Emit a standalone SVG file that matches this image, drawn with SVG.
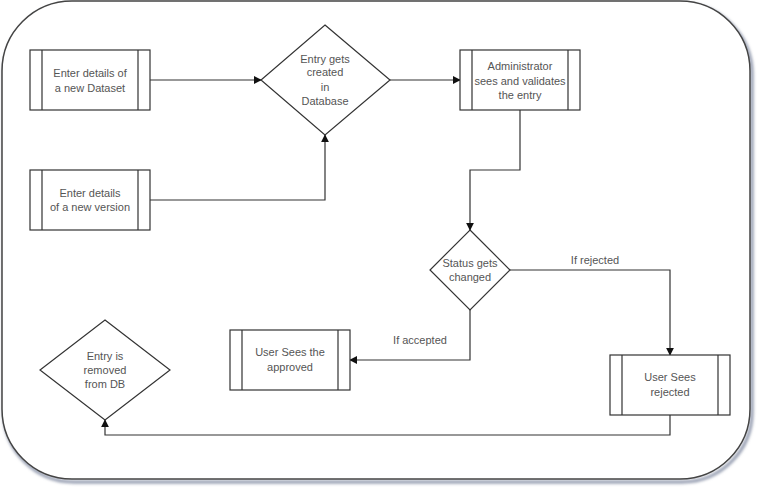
<svg xmlns="http://www.w3.org/2000/svg" width="762" height="492" viewBox="0 0 762 492">
<defs>
<style>
.sh{fill:none;stroke:#333;stroke-width:1.2}
.nd{fill:#fff;stroke:#333;stroke-width:1.2}
.ln{fill:none;stroke:#333;stroke-width:1.2}
.t{font-family:"Liberation Sans",Arial,sans-serif;font-size:11px;fill:#555;text-anchor:middle}
</style>
<marker id="ah" viewBox="0 0 10 10" refX="9" refY="5" markerWidth="8" markerHeight="8" markerUnits="userSpaceOnUse" orient="auto">
<path d="M0,0 L10,5 L0,10 Z" fill="#111"/>
</marker>
<filter id="shadow" x="-5%" y="-5%" width="110%" height="110%">
<feGaussianBlur stdDeviation="1.5"/>
</filter>
</defs>
<rect x="0" y="0" width="762" height="492" fill="#fff"/>
<g id="frame">
<rect x="4" y="4" width="748" height="478" rx="70" ry="70" fill="none" stroke="#8a93a8" stroke-width="3" filter="url(#shadow)"/>
<rect x="2" y="1" width="748" height="478" rx="70" ry="70" fill="#fff" stroke="#444" stroke-width="1.5"/>
</g>
<g id="connectors">
<path class="ln" d="M150,80 H261" marker-end="url(#ah)"/>
<path class="ln" d="M150,200 H325 V135" marker-end="url(#ah)"/>
<path class="ln" d="M390,80 H460" marker-end="url(#ah)"/>
<path class="ln" d="M520,110 V170 H470 V230" marker-end="url(#ah)"/>
<path class="ln" d="M510,270 H670 V355" marker-end="url(#ah)"/>
<path class="ln" d="M470,310 V360 H350" marker-end="url(#ah)"/>
<path class="ln" d="M670,415 V435 H105 V420" marker-end="url(#ah)"/>
<text class="t" x="595" y="264">If rejected</text>
<text class="t" x="420" y="344">If accepted</text>
</g>
<g id="n-dataset">
<rect class="nd" x="30" y="50" width="120" height="60"/>
<path class="sh" d="M42,50 V110 M138,50 V110"/>
<text class="t" x="90" y="77">Enter details of</text>
<text class="t" x="90" y="92">a new Dataset</text>
</g>
<g id="n-version">
<rect class="nd" x="30" y="170" width="120" height="60"/>
<path class="sh" d="M42,170 V230 M138,170 V230"/>
<text class="t" x="90" y="197">Enter details</text>
<text class="t" x="90" y="211">of a new version</text>
</g>
<g id="n-created">
<polygon class="nd" points="325,25 390,80 325,135 261,80"/>
<text class="t" x="325" y="63">Entry gets</text>
<text class="t" x="325" y="76">created</text>
<text class="t" x="325" y="91">in</text>
<text class="t" x="325" y="105">Database</text>
</g>
<g id="n-admin">
<rect class="nd" x="460" y="50" width="120" height="60"/>
<path class="sh" d="M472,50 V110 M568,50 V110"/>
<text class="t" x="520" y="70">Administrator</text>
<text class="t" x="520" y="85">sees and validates</text>
<text class="t" x="520" y="99">the entry</text>
</g>
<g id="n-status">
<polygon class="nd" points="470,230 510,270 470,310 430,270"/>
<text class="t" x="470" y="267">Status gets</text>
<text class="t" x="470" y="281">changed</text>
</g>
<g id="n-rejected">
<rect class="nd" x="610" y="355" width="120" height="60"/>
<path class="sh" d="M622,355 V415 M718,355 V415"/>
<text class="t" x="670" y="381">User Sees</text>
<text class="t" x="670" y="396">rejected</text>
</g>
<g id="n-approved">
<rect class="nd" x="230" y="330" width="120" height="60"/>
<path class="sh" d="M242,330 V390 M338,330 V390"/>
<text class="t" x="290" y="356">User Sees the</text>
<text class="t" x="290" y="371">approved</text>
</g>
<g id="n-removed">
<polygon class="nd" points="105,320 170,370 105,420 40,370"/>
<text class="t" x="105" y="360">Entry is</text>
<text class="t" x="105" y="374">removed</text>
<text class="t" x="105" y="388">from DB</text>
</g>
</svg>
